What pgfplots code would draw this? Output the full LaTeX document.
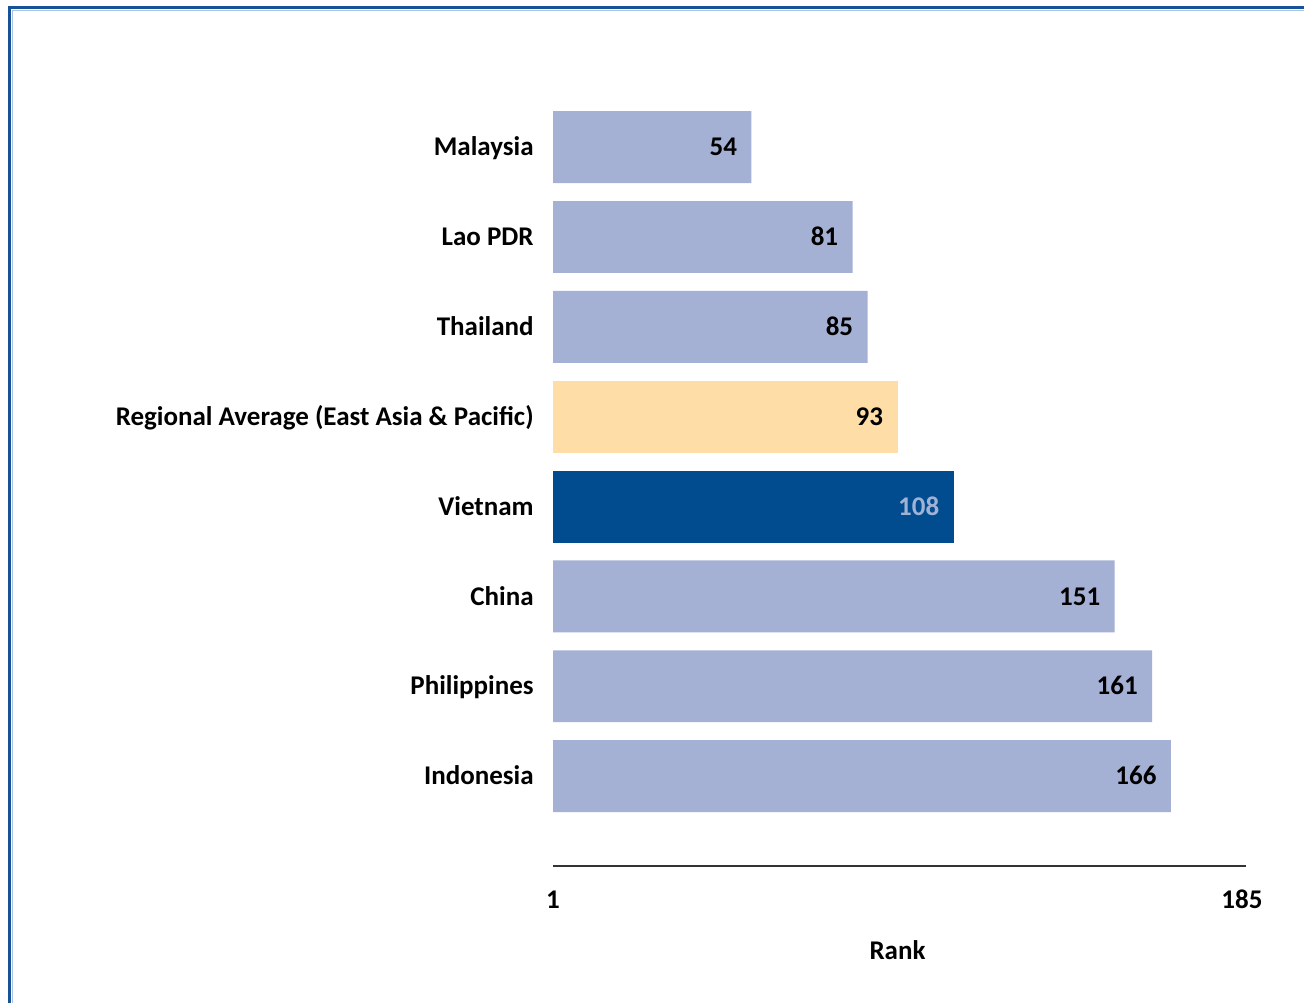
\documentclass[border=0pt]{standalone}
\usepackage{fontspec}
\setmainfont{Carlito}
\usepackage{pgfplots}
\pgfplotsset{compat=1.18}

\definecolor{barblue}{RGB}{165,177,212}
\definecolor{regavg}{RGB}{254,221,166}
\definecolor{vietnam}{RGB}{0,76,143}
\definecolor{vnlabel}{RGB}{160,178,214}
\definecolor{framecol}{RGB}{22,82,152}

\newcommand{\lblfont}{\fontsize{13.5}{16}\selectfont\bfseries}

\begin{document}
\begin{tikzpicture}
% 1 px of the reference = 0.5pt
\useasboundingbox (0,0) rectangle (652pt,501pt);
\draw[line width=1.5pt, framecol] (4.5pt,-5pt) -- (4.5pt,497pt) -- (660pt,497pt);
\draw[line width=0.5pt, framecol!35] (6pt,-5pt) -- (6pt,495.5pt) -- (660pt,495.5pt);

\begin{axis}[
    at={(276.5pt,68pt)}, anchor=south west,
    scale only axis,
    width=344.5pt, height=381.9pt,
    xbar, bar width=0.8, bar shift=0pt,
    xmin=1, xmax=185,
    ymin=-1, ymax=7.5,
    axis x line*=bottom,
    axis y line*=left,
    y axis line style={draw=none},
    x axis line style={-, black!80, line width=1pt, shorten >=-2pt},
    major tick length=0pt,
    xtick={1,185}, xticklabels={1,185},
    ytick={0,...,7},
    yticklabels={Indonesia,Philippines,China,Vietnam,{Regional Average (East Asia \& Pacific)},Thailand,Lao PDR,Malaysia},
    ticklabel style={font=\lblfont, inner sep=0pt},
    yticklabel style={anchor=east, xshift=-9.5pt, text height=11pt, text depth=2.3pt},
    xticklabel style={anchor=north, yshift=-10pt, text height=11pt, text depth=2.3pt},
    xlabel={Rank},
    every axis x label/.style={at={(axis description cs:0.5,0)}, anchor=north, yshift=-37pt, inner sep=0pt, font=\lblfont},
    nodes near coords,
    point meta=x,
    nodes near coords align={anchor=east},
    every node near coord/.append style={font=\lblfont, xshift=-7pt, inner sep=0pt, text height=11pt, text depth=2.3pt, /pgf/number format/assume math mode=true},
]
\addplot[draw=none, fill=barblue, bar shift=0pt] coordinates {(166,0) (161,1) (151,2) (85,5) (81,6) (54,7)};
\addplot[draw=none, fill=regavg, bar shift=0pt] coordinates {(93,4)};
\addplot[draw=none, fill=vietnam, bar shift=0pt, every node near coord/.append style={text=vnlabel}] coordinates {(108,3)};
\end{axis}
\end{tikzpicture}
\end{document}
